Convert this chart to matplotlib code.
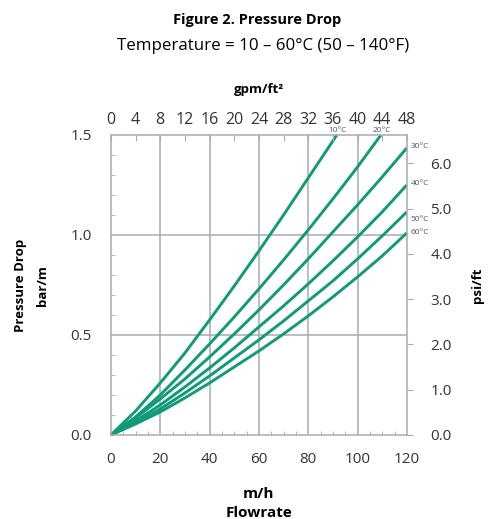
import matplotlib.pyplot as plt
from matplotlib.ticker import MultipleLocator

# Werte (m/h -> bar/m)
flow = [0, 10, 20, 30, 40, 50, 60, 70, 80, 90, 100, 110, 120]
flow_10 = [0, 10, 20, 30, 40, 50, 60, 70, 80, 90, 91.6]
flow_20 = [0, 10, 20, 30, 40, 50, 60, 70, 80, 90, 100, 109.5]
dp_10 = [0, 0.12, 0.26, 0.41, 0.575, 0.745, 0.92, 1.10, 1.285, 1.47, 1.5]
dp_20 = [0, 0.09, 0.20, 0.325, 0.455, 0.59, 0.73, 0.875, 1.025, 1.18, 1.34, 1.5]
dp_30 = [0, 0.085, 0.18, 0.28, 0.39, 0.505, 0.625, 0.75, 0.88, 1.015, 1.15, 1.29, 1.435]
dp_40 = [0, 0.07, 0.15, 0.24, 0.335, 0.435, 0.54, 0.645, 0.755, 0.87, 0.99, 1.115, 1.25]
dp_50 = [0, 0.06, 0.13, 0.21, 0.295, 0.385, 0.475, 0.57, 0.67, 0.77, 0.88, 0.995, 1.115]
dp_60 = [0, 0.055, 0.115, 0.185, 0.26, 0.34, 0.42, 0.505, 0.595, 0.69, 0.79, 0.895, 1.01]

top_ticks = [0, 4, 8, 12, 16, 20, 24, 28, 32, 36, 40, 44, 48]
psi_ticks = [0.0, 1.0, 2.0, 3.0, 4.0, 5.0, 6.0]
psi_per_bar = 4.42

green = '#0f9b77'
grey = '#a9abb3'
txt = '#333333'

plt.rcParams['font.family'] = ['Open Sans', 'DejaVu Sans']

fig = plt.figure(figsize=(4.89, 5.19), dpi=100)
ax = fig.add_axes([0.227, 0.162, 0.605, 0.578])

for xs, ys in [(flow_10, dp_10), (flow_20, dp_20), (flow, dp_30),
               (flow, dp_40), (flow, dp_50), (flow, dp_60)]:
    ax.plot(xs, ys, color=green, lw=2.1, solid_capstyle='butt',
            solid_joinstyle='round', clip_on=False)

ax.set_xlim(0, 120)
ax.set_ylim(0, 1.5)

# Gitter
for gx in [20, 40, 60, 80, 100]:
    ax.axvline(gx, color=grey, lw=1.1, zorder=0)
for gy in [0.5, 1.0]:
    ax.axhline(gy, color=grey, lw=1.1, zorder=0)

for s in ax.spines.values():
    s.set_color(grey)
    s.set_linewidth(1.1)

ax.xaxis.set_major_locator(MultipleLocator(20))
ax.xaxis.set_minor_locator(MultipleLocator(5))
ax.yaxis.set_major_locator(MultipleLocator(0.5))
ax.yaxis.set_minor_locator(MultipleLocator(0.1))
ax.tick_params(axis='both', which='both', direction='in', color=grey,
               labelcolor=txt, labelsize=11)
ax.tick_params(axis='x', which='major', length=0, pad=12)
ax.tick_params(axis='x', which='minor', length=3)
ax.tick_params(axis='y', which='major', length=0, pad=14)
ax.tick_params(axis='y', which='minor', length=3)
ax.yaxis.set_major_formatter(plt.FuncFormatter(lambda v, p: f'{v:.1f}'))

# obere Achse gpm/ft²
top = ax.twiny()
top.set_xlim(0, 48)
top.set_xticks(top_ticks)
top.tick_params(axis='x', direction='in', length=4, color=grey,
                labelcolor=txt, labelsize=11.5, pad=5)
for s in top.spines.values():
    s.set_visible(False)
top.set_xlabel('gpm/ft²', fontsize=9.5, fontweight='bold', labelpad=14)

# rechte Achse psi/ft
right = ax.twinx()
right.set_ylim(0, 1.5 * psi_per_bar)
right.set_yticks(psi_ticks)
right.yaxis.set_major_formatter(plt.FuncFormatter(lambda v, p: f'{v:.1f}'))
right.tick_params(axis='y', direction='out', length=4, color=grey,
                  labelcolor=txt, labelsize=11, pad=13)
for s in right.spines.values():
    s.set_visible(False)
right.set_ylabel('psi/ft', fontsize=9.5, fontweight='bold', labelpad=14)

# Temperaturbeschriftungen
lab = dict(fontsize=6, color='#555555', transform=ax.transData)
ax.text(92, 1.505, '10°C', ha='center', va='bottom', **lab)
ax.text(110, 1.505, '20°C', ha='center', va='bottom', **lab)
ax.text(121.5, 1.44, '30°C', ha='left', va='center', **lab)
ax.text(121.5, 1.255, '40°C', ha='left', va='center', **lab)
ax.text(121.5, 1.075, '50°C', ha='left', va='center', **lab)
ax.text(121.5, 1.01, '60°C', ha='left', va='center', **lab)

ax.set_xlabel('m/h\nFlowrate', fontsize=11, fontweight='bold', labelpad=15,
              linespacing=1.4)
fig.text(0.041, 0.45, 'Pressure Drop', rotation=90, ha='center', va='center',
         fontsize=9.5, fontweight='bold')
fig.text(0.086, 0.45, 'bar/m', rotation=90, ha='center', va='center',
         fontsize=9.5, fontweight='bold')

fig.text(0.526, 0.961, 'Figure 2. Pressure Drop', ha='center', va='center',
         fontsize=10.5, fontweight='bold')
fig.text(0.538, 0.911, 'Temperature = 10 – 60°C (50 – 140°F)', ha='center',
         va='center', fontsize=12.2)

fig.savefig('out.png', dpi=100)
